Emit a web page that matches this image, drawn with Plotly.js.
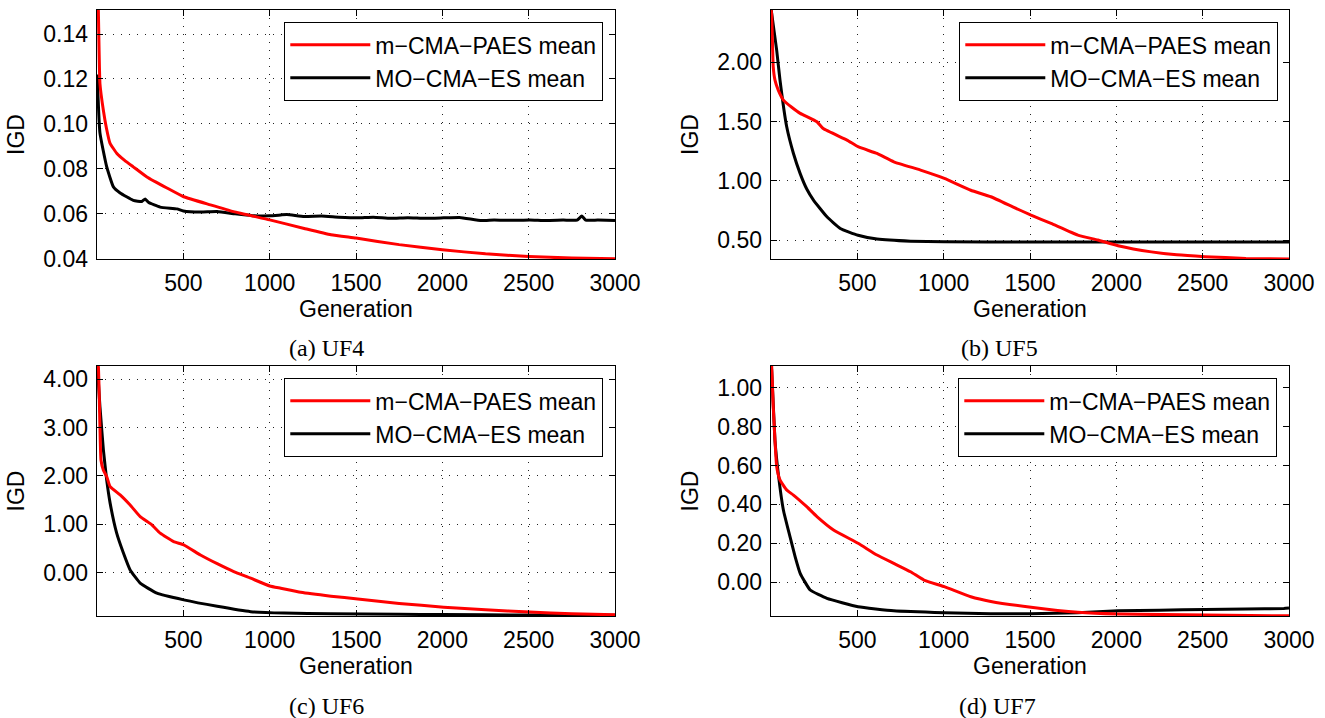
<!DOCTYPE html>
<html>
<head>
<meta charset="utf-8">
<script src="https://cdn.plot.ly/plotly-3.0.1.min.js"></script>
<style>html,body{margin:0;padding:0;background:#fff;}#chart{width:1325px;height:718px;}</style>
</head>
<body>
<div id="chart"></div>
<script>
// ---------------- data ----------------
const seriesNames = ['m\u2212CMA\u2212PAES mean', 'MO\u2212CMA\u2212ES mean'];
const captions = ['(a) UF4', '(b) UF5', '(c) UF6', '(d) UF7'];
const xTickVals = [500, 1000, 1500, 2000, 2500, 3000];

// (a) UF4
const genA_paes = [1, 8, 17, 37, 55, 75, 114, 160, 210, 289, 405, 502, 657, 791, 1000, 1200, 1355, 1500, 1750, 2000, 2250, 2500, 2750, 3000];
const igdA_paes = [0.17, 0.15, 0.118, 0.106, 0.098, 0.0915, 0.087, 0.0838, 0.0809, 0.0764, 0.0715, 0.0676, 0.064, 0.061, 0.0573, 0.0535, 0.0507, 0.0492, 0.0463, 0.0440, 0.0422, 0.0410, 0.0403, 0.0400];
const genA_moes = [1, 17, 56, 95, 134, 210, 260, 279, 300, 366, 463, 500, 600, 696, 800, 900, 1000, 1064, 1100, 1200, 1300, 1400, 1510, 1600, 1700, 1800, 1900, 2008, 2100, 2227, 2300, 2400, 2506, 2600, 2700, 2780, 2808, 2830, 2900, 3000];
const igdA_moes = [0.122, 0.096, 0.081, 0.072, 0.0693, 0.066, 0.0655, 0.0666, 0.065, 0.063, 0.0622, 0.0613, 0.0608, 0.061, 0.060, 0.0592, 0.0591, 0.0595, 0.0597, 0.0588, 0.0590, 0.0585, 0.0582, 0.0585, 0.0580, 0.0583, 0.0580, 0.0582, 0.0584, 0.0570, 0.0573, 0.0571, 0.0573, 0.0570, 0.0572, 0.0572, 0.0590, 0.0572, 0.0572, 0.0570];

// (b) UF5
const genB_paes = [1, 4, 13, 23, 42, 72, 120, 169, 266, 302, 440, 504, 614, 711, 866, 1004, 1157, 1273, 1400, 1506, 1622, 1777, 1893, 2010, 2203, 2350, 2514, 2750, 3000];
const igdB_paes = [2.44, 2.396, 1.96, 1.848, 1.764, 1.68, 1.62, 1.568, 1.497, 1.44, 1.343, 1.287, 1.23, 1.16, 1.09, 1.02, 0.92, 0.865, 0.78, 0.71, 0.64, 0.542, 0.50, 0.452, 0.40, 0.375, 0.36, 0.345, 0.34];
const genB_moes = [1, 4, 33, 52, 91, 130, 169, 207, 246, 324, 401, 504, 614, 808, 1000, 1500, 2000, 2500, 3000];
const igdB_moes = [2.45, 2.41, 2.10, 1.85, 1.455, 1.23, 1.06, 0.93, 0.837, 0.696, 0.598, 0.54, 0.508, 0.49, 0.485, 0.483, 0.483, 0.484, 0.484];

// (c) UF6
const genC_paes = [1, 8, 17, 23, 37, 56, 76, 134, 192, 250, 318, 366, 444, 502, 599, 696, 792, 890, 1000, 1064, 1180, 1355, 1510, 1750, 2008, 2250, 2506, 2750, 3000];
const igdC_paes = [4.4, 4.25, 3.02, 2.33, 2.12, 1.99, 1.78, 1.61, 1.40, 1.16, 0.99, 0.82, 0.645, 0.577, 0.37, 0.19, 0.027, -0.11, -0.27, -0.316, -0.40, -0.48, -0.54, -0.63, -0.707, -0.76, -0.81, -0.845, -0.866];
const genC_moes = [1, 4, 17, 37, 56, 76, 114, 153, 192, 250, 347, 502, 696, 890, 1083, 1355, 1750, 2000, 2500, 3000];
const igdC_moes = [4.4, 4.18, 3.43, 2.54, 1.92, 1.44, 0.82, 0.41, 0.06, -0.21, -0.42, -0.557, -0.69, -0.80, -0.83, -0.845, -0.855, -0.86, -0.87, -0.875];

// (d) UF7
const genD_paes = [1, 4, 13, 23, 33, 52, 91, 130, 207, 266, 362, 504, 614, 711, 808, 886, 1004, 1157, 1273, 1506, 1777, 2010, 2514, 3000];
const igdD_paes = [1.15, 1.11, 0.904, 0.73, 0.594, 0.526, 0.474, 0.448, 0.388, 0.337, 0.268, 0.20, 0.139, 0.096, 0.053, 0.01, -0.024, -0.076, -0.10, -0.13, -0.156, -0.165, -0.17, -0.174];
const genD_moes = [1, 4, 23, 42, 72, 110, 140, 169, 227, 324, 504, 711, 1004, 1273, 1500, 1777, 2010, 2250, 2514, 2750, 2970, 3000];
const igdD_moes = [1.12, 1.09, 0.73, 0.56, 0.37, 0.234, 0.13, 0.045, -0.041, -0.084, -0.127, -0.148, -0.158, -0.163, -0.163, -0.158, -0.148, -0.145, -0.141, -0.139, -0.136, -0.134];

// ---------------- layout helpers ----------------
const W = 1325, H = 718;
const SANS = 'Liberation Sans, Arial, Helvetica, sans-serif';
const SERIF = 'Liberation Serif, Times New Roman, serif';
const RED = '#ff0000', BLACK = '#000000';

const panels = [
  {gx: [genA_paes, genA_moes], gy: [igdA_paes, igdA_moes], px: [97, 615], py: [10, 259], yr: [0.0399, 0.1507], dt: 0.02, leg: [603, 22], cap: [326, 348]},
  {gx: [genB_paes, genB_moes], gy: [igdB_paes, igdB_moes], px: [771, 1289], py: [10, 259], yr: [0.34, 2.44], dt: 0.5, leg: [1278, 22], cap: [999, 348]},
  {gx: [genC_paes, genC_moes], gy: [igdC_paes, igdC_moes], px: [97, 615], py: [366, 616], yr: [-0.89, 4.27], dt: 1, leg: [603, 378], cap: [326, 706]},
  {gx: [genD_paes, genD_moes], gy: [igdD_paes, igdD_moes], px: [771, 1289], py: [366, 616], yr: [-0.175, 1.113], dt: 0.2, leg: [1277, 378], cap: [997, 706]}
];

const data = [];
const layout = {
  width: W, height: H,
  margin: {l: 0, r: 0, t: 0, b: 0},
  paper_bgcolor: '#fff', plot_bgcolor: '#fff',
  font: {family: SANS, color: '#000', size: 23},
  annotations: []
};

const axisCommon = {
  showline: true, linecolor: '#000', linewidth: 1.3, mirror: 'ticks',
  ticks: 'inside', ticklen: 6, tickwidth: 1, tickcolor: '#000',
  showgrid: true, gridcolor: '#222', griddash: '1px,7px', gridwidth: 1,
  zeroline: false, fixedrange: true,
  tickfont: {family: SANS, size: 23, color: '#000'}
};

panels.forEach((p, i) => {
  const n = i + 1;
  const xa = n === 1 ? 'xaxis' : 'xaxis' + n;
  const ya = n === 1 ? 'yaxis' : 'yaxis' + n;
  const xr = n === 1 ? 'x' : 'x' + n;
  const yr = n === 1 ? 'y' : 'y' + n;
  const lg = n === 1 ? 'legend' : 'legend' + n;

  // MO-CMA-ES (black) drawn first so the red curve sits on top
  data.push({
    x: p.gx[1], y: p.gy[1], xaxis: xr, yaxis: yr, type: 'scatter', mode: 'lines',
    name: seriesNames[1], legend: lg, legendrank: 2,
    line: {color: BLACK, width: 3, shape: 'spline', smoothing: 0.4}
  });
  data.push({
    x: p.gx[0], y: p.gy[0], xaxis: xr, yaxis: yr, type: 'scatter', mode: 'lines',
    name: seriesNames[0], legend: lg, legendrank: 1,
    line: {color: RED, width: 3, shape: 'spline', smoothing: 0.4}
  });

  layout[xa] = Object.assign({}, axisCommon, {
    domain: [p.px[0] / W, p.px[1] / W], anchor: yr,
    range: [0, 3000], tickvals: xTickVals, ticktext: xTickVals.map(String),
    ticklabelstandoff: 3,
    title: {text: 'Generation', font: {family: SANS, size: 23, color: '#000'}, standoff: 3}
  });
  layout[ya] = Object.assign({}, axisCommon, {
    domain: [1 - p.py[1] / H, 1 - p.py[0] / H], anchor: xr,
    range: p.yr, dtick: p.dt, tick0: 0, tickformat: '.2f',
    ticklabelstandoff: 3,
    title: {text: 'IGD', font: {family: SANS, size: 23, color: '#000'}, standoff: 12}
  });
  layout[lg] = {
    x: p.leg[0] / W, y: 1 - p.leg[1] / H, xanchor: 'right', yanchor: 'top',
    bgcolor: '#fff', bordercolor: '#000', borderwidth: 1.3,
    font: {family: SANS, size: 23, color: '#000'},
    itemwidth: 80, tracegroupgap: 0, traceorder: 'normal'
  };
  layout.annotations.push({
    xref: 'paper', yref: 'paper', x: p.cap[0] / W, y: 1 - p.cap[1] / H,
    xanchor: 'center', yanchor: 'middle', showarrow: false,
    text: captions[i], font: {family: SERIF, size: 24, color: '#000'}
  });
});

Plotly.newPlot('chart', data, layout, {displayModeBar: false, staticPlot: true});
</script>
</body>
</html>
